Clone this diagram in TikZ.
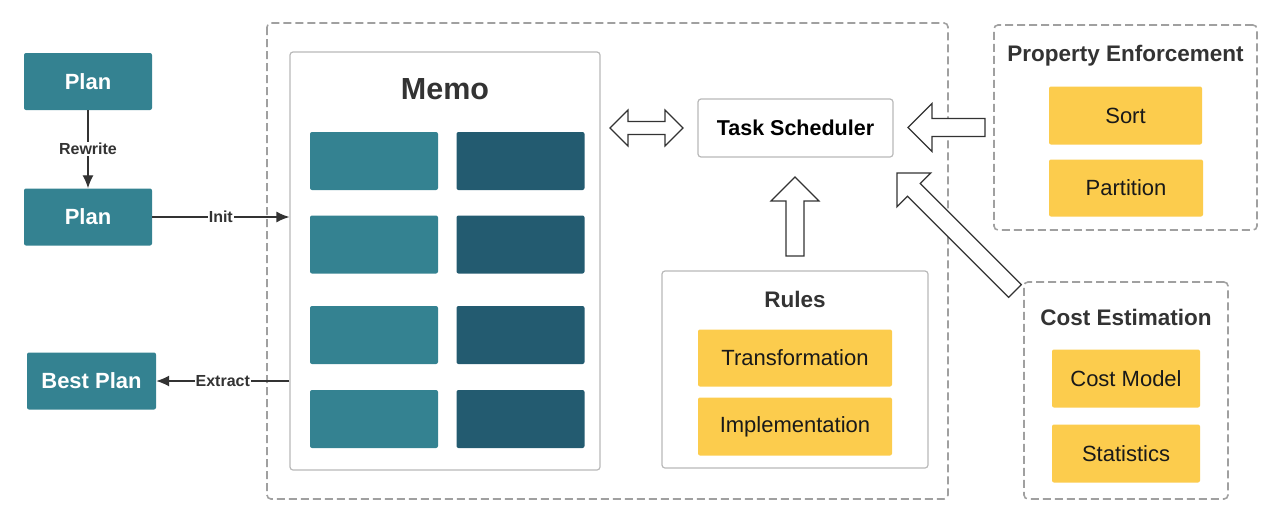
\documentclass[tikz,border=0pt]{standalone}
\usepackage{fontspec}
\setmainfont{Liberation Sans}
\usetikzlibrary{arrows.meta}
\definecolor{planteal}{RGB}{52,130,145}
\definecolor{memodark}{RGB}{35,91,112}
\definecolor{ruleyellow}{RGB}{252,204,77}
\definecolor{panelgray}{RGB}{185,185,185}
\definecolor{dashgray}{RGB}{160,160,160}
\definecolor{titlegray}{RGB}{51,51,51}
\tikzset{
	planbox/.style={fill=planteal,text=white,rounded corners=2,
		font=\fontsize{22}{24}\selectfont\bfseries},
	cellbox/.style={rounded corners=2,minimum width=128,minimum height=58},
	yellowbox/.style={fill=ruleyellow,rounded corners=2,text=black!90,
		font=\fontsize{22}{24}\selectfont},
	panel/.style={draw=panelgray,line width=1.2,rounded corners=3},
	dashpanel/.style={draw=dashgray,line width=1.6,dash pattern=on 8pt off 4pt,rounded corners=4},
	paneltitle/.style={text=titlegray,font=\fontsize{22.5}{24}\selectfont\bfseries},
	flow/.style={draw=titlegray,line width=1.3,-{Latex[length=13pt,width=11pt]}},
	flowlabel/.style={fill=white,inner sep=1,text=titlegray,
		font=\fontsize{16}{18}\selectfont\bfseries},
	outline/.style={draw=black!80,line width=1.2,fill=white,line join=miter}
}
% hollow arrow: base point, angle, length
\newcommand{\fatarrow}[3]{%
	\draw[outline,shift={#1},rotate=#2] (0,-9) -- (#3-24,-9) -- (#3-24,-24)
		-- (#3,0) -- (#3-24,24) -- (#3-24,9) -- (0,9) -- cycle;}
\begin{document}
\begin{tikzpicture}[x=1pt,y=-1pt]
	\useasboundingbox (0,0) rectangle (1280,523);
	% outer optimizer frame
	\draw[dashpanel] (267,23) rectangle (948,499);
	% plans on the left
	\node[planbox,minimum width=128,minimum height=57] (plan) at (88,81.5) {Plan};
	\node[planbox,minimum width=128,minimum height=57] (planrw) at (88,217) {Plan};
	\node[planbox,minimum width=129,minimum height=57] (best) at (91.5,381) {Best Plan};
	% memo
	\node[panel,minimum width=310,minimum height=418] (memo) at (445,261) {};
	\node[text=titlegray,font=\fontsize{30.5}{34}\selectfont\bfseries] (memotitle)
		at (445,89) {Memo};
	\foreach \row/\y in {1/161,2/244.5,3/335,4/419} {
		\node[cellbox,fill=planteal] (grp\row) at (374,\y) {};
		\node[cellbox,fill=memodark] (expr\row) at (520.5,\y) {};
	}
	% plan flow
	\draw[flow] (plan) -- node[flowlabel] {Rewrite} (planrw);
	\draw[flow] (planrw.east) -- node[flowlabel,pos=.5] {Init} (memo.west |- planrw);
	\draw[flow] (memo.west |- best) -- node[flowlabel,pos=.5] {Extract} (best.east);
	% task scheduler
	\node[panel,minimum width=195,minimum height=58,
		font=\fontsize{21.5}{24}\selectfont\bfseries] (sched) at (795.5,128) {Task Scheduler};
	% hollow arrows
	\draw[outline] (610,128) -- (628,110) -- (628,121.5) -- (665,121.5) -- (665,110)
		-- (683,128) -- (665,146) -- (665,134.5) -- (628,134.5) -- (628,146) -- cycle;
	\fatarrow{(795,256)}{90}{79}
	\fatarrow{(985,127.5)}{180}{77}
	\fatarrow{(1015,291)}{135}{167}
	% rules
	\node[panel,minimum width=266,minimum height=197] (rules) at (795,369.5) {};
	\node[paneltitle] (rulestitle) at (795,299.5) {Rules};
	\node[yellowbox,minimum width=194,minimum height=57] (trans) at (795,358) {Transformation};
	\node[yellowbox,minimum width=194,minimum height=58] (impl) at (795,426.5) {Implementation};
	% property enforcement
	\node[dashpanel,fill=white,minimum width=263,minimum height=205] (prop) at (1125.5,127.5) {};
	\node[paneltitle] (proptitle) at (1125.5,55.5) {Property Enforcement};
	\node[yellowbox,minimum width=153,minimum height=58] (sort) at (1125.5,115.5) {Sort};
	\node[yellowbox,minimum width=154,minimum height=57] (part) at (1126,188) {Partition};
	% cost estimation
	\node[dashpanel,fill=white,minimum width=204,minimum height=217] (cost) at (1126,390.5) {};
	\node[paneltitle] (costtitle) at (1126,317) {Cost Estimation};
	\node[yellowbox,minimum width=148,minimum height=58] (model) at (1126,378.5) {Cost Model};
	\node[yellowbox,minimum width=148,minimum height=58] (stats) at (1126,453.5) {Statistics};
\end{tikzpicture}
\end{document}
